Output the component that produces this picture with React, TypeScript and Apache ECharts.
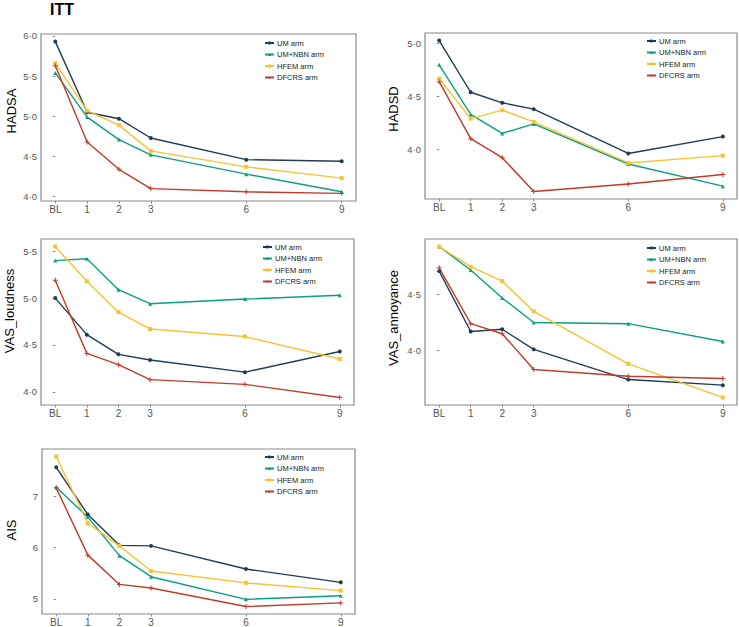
import React, { useEffect, useRef } from "react";
import * as echarts from "echarts";

// Visits (months) and their axis labels
const timepoints = [0, 1, 2, 3, 6, 9];
const xLabels = ["BL", "1", "2", "3", "6", "9"];

const arms = ["UM arm", "UM+NBN arm", "HFEM arm", "DFCRS arm"];
const armColors = ["#1f3d52", "#0a9f80", "#f8c234", "#c13b2a"];

// Mean scores per arm (rows follow `arms`)
const hadsa = [
  [5.93, 5.05, 4.97, 4.73, 4.46, 4.44],
  [5.54, 4.99, 4.71, 4.52, 4.28, 4.06],
  [5.66, 5.07, 4.89, 4.57, 4.37, 4.23],
  [5.63, 4.68, 4.34, 4.10, 4.06, 4.04],
];
const hadsd = [
  [5.03, 4.54, 4.44, 4.38, 3.96, 4.12],
  [4.80, 4.33, 4.15, 4.24, 3.86, 3.65],
  [4.67, 4.29, 4.37, 4.26, 3.87, 3.94],
  [4.64, 4.10, 3.92, 3.60, 3.67, 3.76],
];
const vasLoudness = [
  [5.00, 4.61, 4.40, 4.34, 4.21, 4.43],
  [5.40, 5.42, 5.09, 4.94, 4.99, 5.03],
  [5.55, 5.18, 4.85, 4.67, 4.59, 4.35],
  [5.19, 4.41, 4.29, 4.13, 4.08, 3.94],
];
const vasAnnoyance = [
  [4.71, 4.17, 4.19, 4.01, 3.74, 3.69],
  [4.93, 4.72, 4.47, 4.25, 4.24, 4.08],
  [4.93, 4.75, 4.62, 4.35, 3.88, 3.58],
  [4.74, 4.24, 4.15, 3.83, 3.77, 3.75],
];
const ais = [
  [7.56, 6.64, 6.04, 6.03, 5.58, 5.32],
  [7.17, 6.59, 5.84, 5.43, 4.99, 5.06],
  [7.77, 6.47, 6.03, 5.54, 5.31, 5.16],
  [7.16, 5.85, 5.28, 5.21, 4.85, 4.92],
];

// Y tick values per panel
const hadsaTicks = [4.0, 4.5, 5.0, 5.5, 6.0];
const hadsdTicks = [4.0, 4.5, 5.0];
const loudnessTicks = [4.0, 4.5, 5.0, 5.5];
const annoyanceTicks = [4.0, 4.5];
const aisTicks = [5, 6, 7];

const panelTitles = ["HADSA", "HADSD", "VAS_loudness", "VAS_annoyance", "AIS"];
const panelData = [hadsa, hadsd, vasLoudness, vasAnnoyance, ais];
const panelTicks = [hadsaTicks, hadsdTicks, loudnessTicks, annoyanceTicks, aisTicks];
const integerTicks = [false, false, false, false, true];

// Plot box geometry (px) for each panel
const boxes = [
  { left: 41, top: 34, width: 315, height: 167 },
  { left: 425, top: 33, width: 312, height: 166 },
  { left: 41, top: 239, width: 313, height: 166 },
  { left: 425, top: 239, width: 312, height: 166 },
  { left: 42, top: 449, width: 313, height: 166 },
];
const legendPos = [
  { left: 264, top: 39 },
  { left: 646, top: 37 },
  { left: 262, top: 243 },
  { left: 646, top: 244 },
  { left: 264, top: 453 },
];
const yTitlePos = [
  { x: 11, y: 111 },
  { x: 393, y: 109 },
  { x: 9, y: 311 },
  { x: 393, y: 318 },
  { x: 11, y: 530 },
];

const plusPath = "path://M4,0H6V4H10V6H6V10H4V6H0V4H4Z";
const armSymbols = ["circle", "triangle", "rect", plusPath];

const FONT = "Liberation Sans, Arial, Helvetica, sans-serif";

function buildOption() {
  const grid: any[] = [];
  const xAxis: any[] = [];
  const yAxis: any[] = [];
  const series: any[] = [];
  const legend: any[] = [];
  const graphic: any[] = [];

  panelData.forEach((rows, p) => {
    const all = rows.flat();
    const lo = Math.min(...all);
    const hi = Math.max(...all);
    const pad = (hi - lo) * 0.05;
    const b = boxes[p];

    grid.push({
      left: b.left,
      top: b.top,
      width: b.width,
      height: b.height,
      show: true,
      borderColor: "#8a8a8a",
      borderWidth: 1.2,
      backgroundColor: "#ffffff",
      containLabel: false,
    });

    xAxis.push({
      type: "value",
      gridIndex: p,
      min: -0.45,
      max: 9.45,
      axisLine: { show: false },
      splitLine: { show: false },
      axisTick: {
        show: true,
        length: 2.5,
        lineStyle: { color: "#8a8a8a", width: 1 },
        customValues: timepoints,
      },
      axisLabel: {
        customValues: timepoints,
        margin: 3,
        fontFamily: FONT,
        fontSize: 10,
        color: "#555555",
        formatter: (v: number) => xLabels[timepoints.indexOf(v)] ?? "",
      },
    });

    yAxis.push({
      type: "value",
      gridIndex: p,
      min: lo - pad,
      max: hi + pad,
      axisLine: { show: false },
      splitLine: { show: false },
      axisTick: {
        show: true,
        length: 2.5,
        lineStyle: { color: "#8a8a8a", width: 1 },
        customValues: panelTicks[p],
      },
      axisLabel: {
        customValues: panelTicks[p],
        margin: 4,
        fontFamily: FONT,
        fontSize: 9.5,
        color: "#555555",
        formatter: (v: number) =>
          integerTicks[p] ? String(Math.round(v)) : v.toFixed(1).replace(".", "\u00b7"),
      },
    });

    rows.forEach((vals, a) => {
      series.push({
        type: "line",
        name: arms[a],
        xAxisIndex: p,
        yAxisIndex: p,
        data: timepoints.map((t, i) => [t, vals[i]]),
        symbol: armSymbols[a],
        symbolSize: a === 3 ? 5 : 4,
        showSymbol: true,
        lineStyle: { color: armColors[a], width: 1.4 },
        itemStyle: { color: armColors[a] },
        emphasis: { disabled: true },
      });
    });

    legend.push({
      left: legendPos[p].left,
      top: legendPos[p].top,
      orient: "vertical",
      data: arms,
      itemWidth: 9,
      itemHeight: 4,
      itemGap: 3.5,
      selectedMode: false,
      padding: 0,
      textStyle: { fontFamily: FONT, fontSize: 7.5, color: "#1a1a1a", padding: [0, 0, 0, -2] },
    });

    graphic.push({
      type: "text",
      x: yTitlePos[p].x,
      y: yTitlePos[p].y,
      rotation: Math.PI / 2,
      style: {
        text: panelTitles[p],
        fontFamily: FONT,
        fontSize: 13,
        fill: "#000000",
        align: "center",
        verticalAlign: "middle",
      },
    });
  });

  graphic.push({
    type: "text",
    x: 62,
    y: 9,
    style: {
      text: "ITT",
      fontFamily: FONT,
      fontSize: 16,
      fontWeight: "bold",
      fill: "#000000",
      align: "center",
      verticalAlign: "middle",
    },
  });

  return {
    animation: false,
    backgroundColor: "#ffffff",
    grid,
    xAxis,
    yAxis,
    series,
    legend,
    graphic,
  };
}

export default function App() {
  const ref = useRef<HTMLDivElement>(null);
  useEffect(() => {
    if (!ref.current) return;
    const chart = echarts.init(ref.current, undefined, { renderer: "svg" });
    chart.setOption(buildOption());
    return () => chart.dispose();
  }, []);
  return (
    <div
      ref={ref}
      style={{ position: "fixed", left: 0, top: 0, width: 739, height: 627 }}
    />
  );
}
